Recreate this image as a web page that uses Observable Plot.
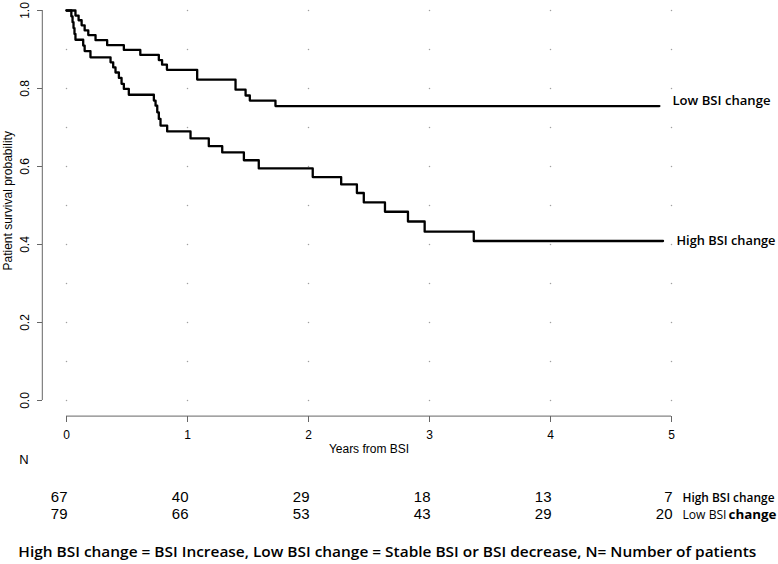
<!DOCTYPE html>
<html>
<head>
<meta charset="utf-8">
<script src="https://cdn.jsdelivr.net/npm/d3@7"></script>
<script src="https://cdn.jsdelivr.net/npm/@observablehq/plot@0.6"></script>
<style>
  html, body { margin: 0; padding: 0; background: #fff; }
  #chart svg { display: block; }
</style>
</head>
<body>
<div id="chart"></div>
<script>
// ---- data ----
const years = [0, 1, 2, 3, 4, 5];
const yTicks = [0, 0.2, 0.4, 0.6, 0.8, 1.0];
const gridY = [0, 0.1, 0.2, 0.3, 0.4, 0.5, 0.6, 0.7, 0.8, 0.9, 1.0];

const nHigh = [67, 40, 29, 18, 13, 7];
const nLow = [79, 66, 53, 43, 29, 20];

// Low BSI change (upper curve)
const lowTime = [0, 0.074, 0.10, 0.125, 0.15, 0.18, 0.24, 0.336, 0.474, 0.61, 0.763, 0.79, 0.83, 1.08, 1.397, 1.48, 1.515, 1.727, 4.90];
const lowSurv = [1.0, 0.987, 0.975, 0.962, 0.949, 0.937, 0.924, 0.911, 0.899, 0.886, 0.873, 0.861, 0.848, 0.823, 0.797, 0.782, 0.769, 0.755, 0.755];

// High BSI change (lower curve)
const highTime = [0, 0.040, 0.050, 0.058, 0.066, 0.074, 0.138, 0.150, 0.198, 0.364, 0.386, 0.405, 0.433, 0.455, 0.474, 0.515, 0.722, 0.736, 0.750, 0.763, 0.777, 0.832, 1.025, 1.176, 1.287, 1.466, 1.589, 2.035, 2.27, 2.40, 2.457, 2.632, 2.822, 2.96, 3.366, 4.93];
const highSurv = [1.0, 0.985, 0.970, 0.955, 0.940, 0.925, 0.910, 0.896, 0.880, 0.867, 0.854, 0.841, 0.827, 0.812, 0.799, 0.784, 0.769, 0.756, 0.739, 0.722, 0.705, 0.690, 0.672, 0.652, 0.636, 0.616, 0.595, 0.573, 0.554, 0.532, 0.508, 0.484, 0.459, 0.433, 0.409, 0.409];

const seriesLabels = ["Low BSI change", "High BSI change"];
const caption = "High BSI change = BSI Increase, Low BSI change = Stable BSI or BSI decrease, N= Number of patients";

// ---- tables built from the arrays ----
const low = lowTime.map((t, i) => ({t, s: lowSurv[i]}));
const high = highTime.map((t, i) => ({t, s: highSurv[i]}));
const grid = years.flatMap(x => gridY.map(y => ({x, y})));
const rowHigh = years.map((x, i) => ({x, n: nHigh[i]}));
const rowLow = years.map((x, i) => ({x, n: nLow[i]}));

const axisFont = "'Liberation Sans', Arial, sans-serif";
const calFont = "'Open Sans', Lato, sans-serif";

const chart = Plot.plot({
  width: 778,
  height: 564,
  marginLeft: 42,
  marginRight: 83,
  marginTop: 0,
  marginBottom: 148,
  x: {domain: [0, 5], range: [66, 671]},
  y: {domain: [0, 1], range: [400, 10]},
  style: {background: "#fff", fontFamily: axisFont, color: "#000", overflow: "visible"},
  marks: [
    // dotted grid
    Plot.dot(grid, {x: "x", y: "y", r: 0.75, fill: "#a0a0a0", stroke: null}),
    // axis lines (R style)
    Plot.ruleX([-0.2], {y1: 0, y2: 1, stroke: "#666", strokeWidth: 1}),
    Plot.ruleY([-0.04], {x1: 0, x2: 5, stroke: "#666", strokeWidth: 1}),
    Plot.axisY({ticks: yTicks, tickSize: 5, tickFormat: () => "", stroke: "#666", label: null}),
    Plot.axisX({ticks: years, tickSize: 6, tickPadding: 8, fontSize: 12, stroke: "#666", label: null, tickFormat: d => String(d)}),
    // rotated y tick labels
    Plot.text(yTicks, {x: -0.2, y: d => d, text: d => d.toFixed(1), rotate: -90, dx: -17, fontSize: 12}),
    // axis titles
    Plot.text(["Patient survival probability"], {x: -0.2, y: 0.512, rotate: -90, dx: -34, fontSize: 12}),
    Plot.text(["Years from BSI"], {x: 2.5, frameAnchor: "bottom", dy: 36, fontSize: 12}),
    // curves
    Plot.line(high, {x: "t", y: "s", curve: "step-after", stroke: "#000", strokeWidth: 2.3}),
    Plot.line(low, {x: "t", y: "s", curve: "step-after", stroke: "#000", strokeWidth: 2.3}),
    // curve labels
    Plot.text([seriesLabels[0]], {x: 5, y: lowSurv[lowSurv.length - 1], dx: 1, dy: -5, textAnchor: "start", fontFamily: calFont, fontWeight: 600, fontSize: 13, className: "fit-lowcurve"}),
    Plot.text([seriesLabels[1]], {x: 5, y: highSurv[highSurv.length - 1], dx: 5, dy: 0, textAnchor: "start", fontFamily: calFont, fontWeight: 600, fontSize: 13, className: "fit-highcurve"}),
    // number at risk table
    Plot.text(["N"], {x: -0.2, frameAnchor: "bottom", dx: -23, dy: 47, textAnchor: "start", fontSize: 13}),
    Plot.text(rowHigh, {x: "x", text: "n", frameAnchor: "bottom", dy: 85, dx: 1, textAnchor: "end", fontSize: 15}),
    Plot.text(rowLow, {x: "x", text: "n", frameAnchor: "bottom", dy: 102, dx: 1, textAnchor: "end", fontSize: 15}),
    Plot.text(["High BSI change"], {x: 5, frameAnchor: "bottom", dx: 11, dy: 85, textAnchor: "start", fontFamily: calFont, fontWeight: 600, fontSize: 12, className: "fit-highrow"}),
    Plot.text(["Low BSI"], {x: 5, frameAnchor: "bottom", dx: 11, dy: 102, textAnchor: "start", fontFamily: calFont, fontSize: 12, className: "fit-lowrow"}),
    Plot.text(["change"], {x: 5, frameAnchor: "bottom", dx: 57, dy: 102, textAnchor: "start", fontFamily: calFont, fontWeight: 700, fontSize: 12, className: "fit-changerow"}),
    // footnote
    Plot.text([caption], {x: -0.2, frameAnchor: "bottom", dx: -24, dy: 140, textAnchor: "start", fontFamily: calFont, fontWeight: 600, fontSize: 13.5, className: "fit-caption"})
  ]
});

// fit Calibri-like labels to the widths measured in the reference
const fits = {"fit-lowcurve": 98, "fit-highcurve": 99, "fit-highrow": 92, "fit-lowrow": 44, "fit-changerow": 48, "fit-caption": 738};
const svg = d3.select(chart);
Object.entries(fits).forEach(([cls, w]) => {
  svg.selectAll(`.${cls} text`).attr("textLength", w).attr("lengthAdjust", "spacingAndGlyphs");
});
document.getElementById("chart").appendChild(chart);
</script>
</body>
</html>
